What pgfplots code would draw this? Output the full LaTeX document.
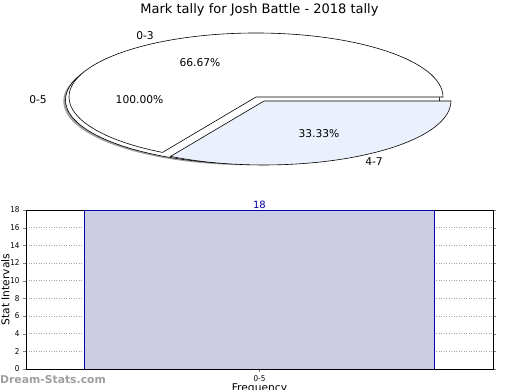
\documentclass[border=0pt]{standalone}
\usepackage{pgfplots}
\pgfplotsset{compat=1.18}
\usepackage{fontspec}
\setmainfont{DejaVu Sans}
\newfontfamily\condfont{DejaVu Sans Condensed}
\definecolor{barfill}{RGB}{204,204,229}
\definecolor{baredge}{RGB}{0,0,170}
\definecolor{sliceblue}{RGB}{234,240,252}
\begin{document}
\begin{tikzpicture}
\useasboundingbox (0,0) rectangle (520pt,390pt);
% ---------- pie (values: 0-5 = 100.00, 0-3 = 66.67, 4-7 = 33.33) ----------
\begin{axis}[at={(0pt,0pt)}, anchor=south west, width=520pt, height=390pt,
  scale only axis, xmin=0, xmax=520, ymin=0, ymax=390, enlargelimits=false,
  hide axis, clip=false]
% shadow
\fill[gray!75] (axis cs:250.3,288.8) ellipse [x radius=187pt, y radius=64pt];
% 0-5 : 100 %
\draw[fill=white, line width=0.6pt] (axis cs:252.5,290) ellipse [x radius=187pt, y radius=64pt];
% 0-3 : 66.67 % -> 0..240 deg
\draw[fill=white, line width=0.6pt] (axis cs:256,293) -- (axis cs:443,293)
  arc [start angle=0, end angle=240, x radius=187pt, y radius=64pt] -- cycle;
% 4-7 : 33.33 % -> 240..360 deg, exploded
\draw[fill=sliceblue, line width=0.6pt] (axis cs:264,289) -- (axis cs:170.5,233.6)
  arc [start angle=240, end angle=360, x radius=187pt, y radius=64pt] -- cycle;
\node[font=\fontsize{13}{15}\selectfont] at (axis cs:259.5,380) {Mark tally for Josh Battle - 2018 tally};
\begin{scope}[every node/.style={font=\fontsize{10.7}{12}\selectfont}]
\node at (axis cs:145,354) {0-3};
\node at (axis cs:200,327) {66.67\%};
\node at (axis cs:38,290) {0-5};
\node at (axis cs:139.5,290) {100.00\%};
\node at (axis cs:319,256) {33.33\%};
\node at (axis cs:374,228) {4-7};
\end{scope}
\node[anchor=west, inner sep=0pt, text=gray!75, font=\bfseries\fontsize{10.8}{12}\selectfont] at (axis cs:0,10) {Dream-Stats.com};
\end{axis}
% ---------- bar chart ----------
\begin{axis}[at={(26pt,21pt)}, anchor=south west, width=467pt, height=159pt,
  scale only axis, xmin=-1, xmax=1, ymin=0, ymax=18, enlargelimits=false,
  ytick={0,2,...,18}, xtick={0}, xticklabels={0-5}, xtick pos=bottom,
  ymajorgrids, xmajorgrids, grid style={dash pattern=on 1pt off 1.5pt, gray!70},
  tick align=outside, major tick length=3pt, tick style={gray},
  ticklabel style={font=\condfont\fontsize{8}{9}\selectfont},
  /pgf/number format/assume math mode=true,
  xlabel={Frequency}, ylabel={Stat Intervals},
  label style={font=\fontsize{10.7}{12}\selectfont},
  xlabel style={at={(axis description cs:0.5,0)}, anchor=center, yshift=-20pt},
  ylabel style={at={(axis description cs:0,0.5)}, anchor=center, yshift=20.5pt},
  axis line style={black, line width=0.8pt}]
\addplot[ybar, bar width=1.5, fill=barfill, draw=baredge, line width=0.7pt,
  nodes near coords, every node near coord/.append style={text=baredge, font=\fontsize{10}{11}\selectfont, inner sep=1pt}]
  coordinates {(0,18)};
\end{axis}
\end{tikzpicture}
\end{document}
